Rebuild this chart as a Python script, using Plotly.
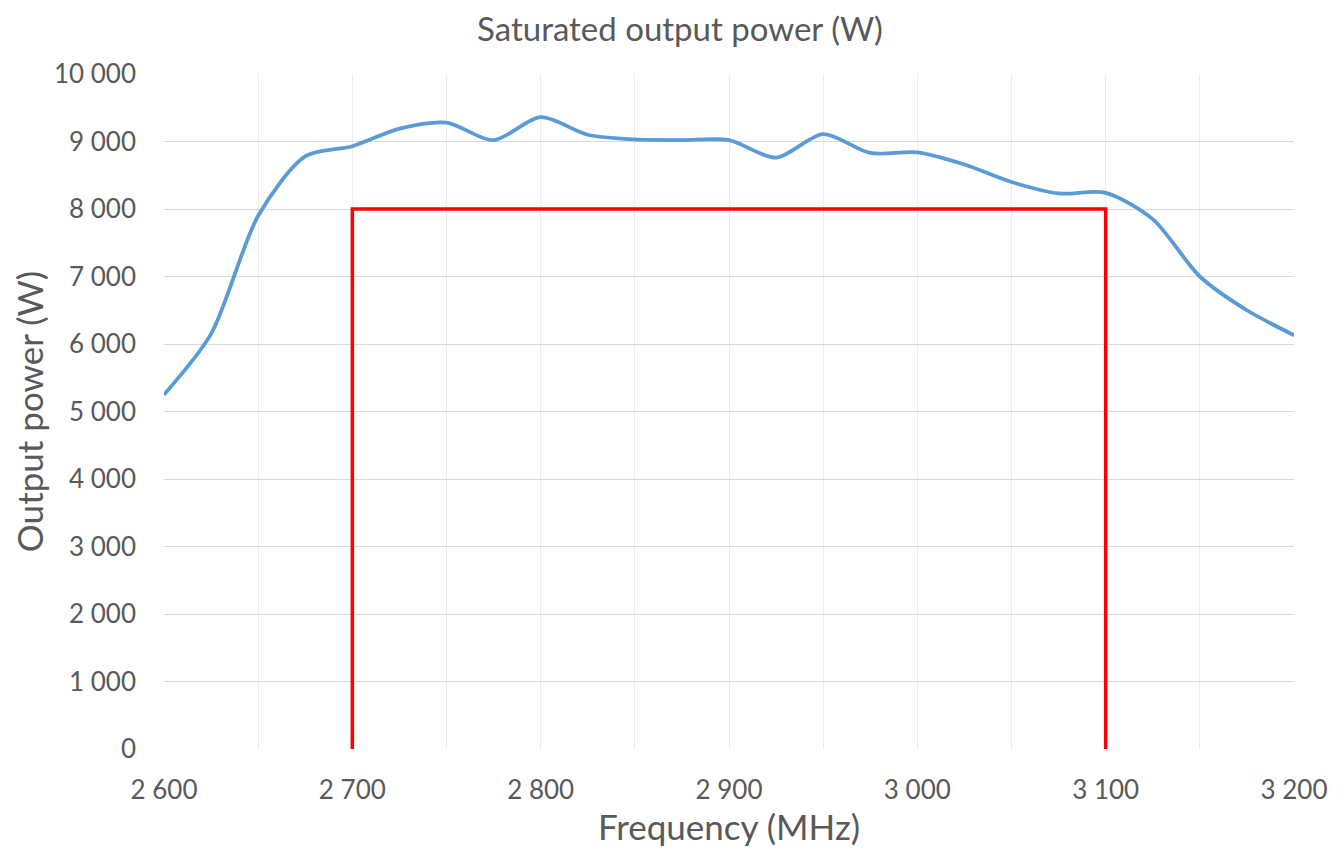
import plotly.graph_objects as go

freq = [2600, 2625, 2650, 2675, 2700, 2725, 2750, 2775, 2800, 2825, 2850, 2875, 2900,
        2925, 2950, 2975, 3000, 3025, 3050, 3075, 3100, 3125, 3150, 3175, 3200]
power = [5250, 6150, 7900, 8780, 8930, 9190, 9280, 9020, 9360, 9100, 9030, 9020, 9020,
         8760, 9110, 8830, 8840, 8660, 8400, 8230, 8240, 7850, 7000, 6500, 6130]

spec_freq = [2700, 2700, 3100, 3100]
spec_power = [0, 8000, 8000, 0]

x_ticks = [2600, 2700, 2800, 2900, 3000, 3100, 3200]
x_labels = ["2 600", "2 700", "2 800", "2 900", "3 000", "3 100", "3 200"]
y_ticks = [0, 1000, 2000, 3000, 4000, 5000, 6000, 7000, 8000, 9000, 10000]
y_labels = ["0", "1 000", "2 000", "3 000", "4 000", "5 000", "6 000", "7 000", "8 000", "9 000", "10 000"]

FONT = "Lato, Open Sans, sans-serif"
GREY = "#595959"

fig = go.Figure()
fig.add_trace(go.Scatter(x=spec_freq, y=spec_power, mode="lines",
                         line=dict(color="#ff0000", width=3.5), showlegend=False, hoverinfo="skip"))
fig.add_trace(go.Scatter(x=freq, y=power, mode="lines", line_shape="spline",
                         line=dict(color="#5b9bd5", width=3.8, smoothing=0.8), showlegend=False))

fig.update_layout(
    width=1344, height=857,
    paper_bgcolor="white", plot_bgcolor="white",
    margin=dict(l=154, r=58, t=66, b=116),
    font=dict(family=FONT, color=GREY),
    title=dict(text="Saturated output power (W)", x=0.5, xanchor="center",
               yref="container", y=0.975, yanchor="middle",
               font=dict(size=33, color=GREY, family=FONT)),
)
fig.update_xaxes(
    range=[2600, 3200], tickvals=x_ticks, ticktext=x_labels,
    tickfont=dict(size=26, color=GREY), showgrid=True, gridcolor="#ececec", gridwidth=1,
    minor=dict(dtick=50, tick0=2600, showgrid=True, gridcolor="#ececec", gridwidth=1),
    zeroline=False, showline=False, ticks="", ticklabelstandoff=23,
    title=dict(text="Frequency (MHz)", font=dict(size=35, color=GREY), standoff=8),
)
fig.update_yaxes(
    range=[0, 10000], tickvals=y_ticks, ticktext=y_labels,
    tickfont=dict(size=26, color=GREY), showgrid=True, gridcolor="#d9d9d9", gridwidth=1.3,
    zeroline=False, showline=False, ticks="", ticklabelstandoff=27,
    title=dict(text="Output power (W)", font=dict(size=35, color=GREY), standoff=9),
)

fig.write_html("out.html")
